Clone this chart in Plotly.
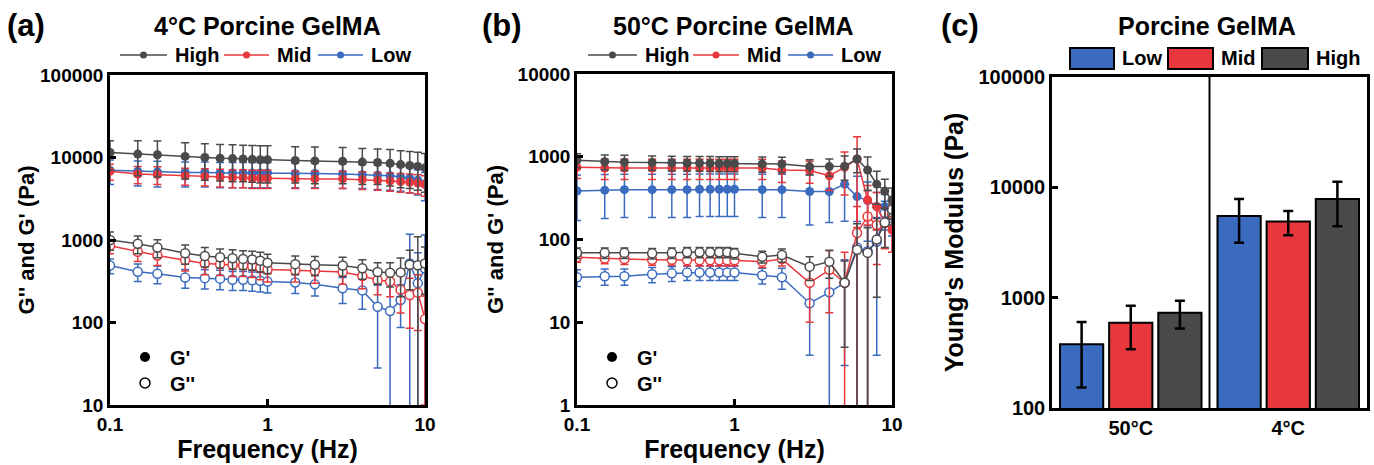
import plotly.graph_objects as go

# frequency sweep (Hz)
freq = [0.1, 0.15, 0.2, 0.3, 0.4, 0.5, 0.6, 0.7, 0.8, 0.9, 1, 1.5, 2, 3, 4, 5, 6, 7, 8, 9, 10]

# (a) 4°C Porcine GelMA
a_gp_high = [11500, 11000, 10800, 10300, 10000, 9800, 9700, 9600, 9500, 9400, 9400, 9200, 9100, 9000, 8800, 8700, 8500, 8200, 8000, 7800, 7500]
a_gp_high_err = [4500, 5000, 5000, 4800, 4700, 4600, 4600, 4500, 4500, 4500, 4500, 4300, 4300, 4200, 4100, 4000, 4000, 3900, 3800, 3800, 3700]
a_gp_mid = [6800, 6300, 6200, 6000, 5900, 5800, 5700, 5700, 5600, 5600, 5600, 5500, 5500, 5500, 5400, 5300, 5200, 5100, 5000, 4900, 4700]
a_gp_mid_err = [1500, 1500, 1500, 1400, 1400, 1400, 1400, 1400, 1400, 1400, 1400, 1300, 1300, 1300, 1300, 1300, 1300, 1300, 1300, 1300, 1300]
a_gp_low = [7000, 6800, 6700, 6600, 6600, 6500, 6500, 6500, 6500, 6500, 6500, 6400, 6400, 6300, 6200, 6100, 6000, 5800, 5600, 5300, 4800]
a_gp_low_err = [2300, 2300, 2300, 2200, 2200, 2200, 2200, 2200, 2200, 2200, 2200, 2100, 2100, 2100, 2000, 2000, 2000, 1900, 1900, 1800, 1800]

a_gpp_high = [1000, 900, 810, 690, 640, 617, 600, 590, 580, 560, 530, 510, 500, 490, 455, 410, 400, 405, 500, 495, 520]
a_gpp_high_err = [250, 220, 200, 180, 170, 160, 160, 150, 150, 150, 140, 130, 130, 130, 120, 120, 130, 200, 250, 600, 300]
a_gpp_mid = [850, 720, 650, 570, 520, 510, 500, 490, 480, 460, 440, 430, 420, 410, 366, 327, 315, 250, 215, 230, 110]
a_gpp_mid_err = [170, 170, 160, 150, 140, 140, 140, 130, 130, 130, 130, 120, 120, 120, 110, 110, 110, 120, 130, 150, 100]
a_gpp_low = [490, 413, 390, 350, 345, 340, 330, 330, 325, 320, 313, 305, 290, 260, 245, 155, 138, 187, 520, 300, 450]
a_gpp_low_err = [100, 100, 95, 90, 90, 90, 85, 85, 85, 85, 85, 80, 80, 90, 100, 127, 150, 100, 650, 400, 700]

# (b) 50°C Porcine GelMA
b_gp_high = [910, 870, 860, 850, 845, 840, 840, 835, 830, 830, 830, 820, 815, 760, 760, 770, 940, 690, 466, 385, 300]
b_gp_high_err = [180, 180, 180, 170, 170, 170, 170, 170, 170, 170, 170, 170, 170, 160, 180, 250, 300, 300, 200, 150, 120]
b_gp_mid = [745, 730, 730, 730, 730, 730, 730, 730, 730, 730, 730, 730, 690, 680, 590, 745, 940, 300, 250, 158, 130]
b_gp_mid_err = [200, 200, 200, 200, 200, 200, 200, 200, 200, 200, 200, 200, 200, 200, 200, 400, 800, 150, 120, 80, 60]
b_gp_low = [385, 395, 400, 400, 400, 400, 405, 405, 405, 405, 405, 400, 400, 380, 380, 466, 330, 295, 250, 250, 190]
b_gp_low_err = [215, 215, 215, 215, 215, 215, 215, 215, 215, 215, 215, 215, 215, 230, 220, 300, 250, 200, 120, 100, 80]

b_gpp_high = [69, 69, 69, 68, 69, 70, 70, 70, 70, 70, 68, 62, 65, 47, 54, 30, 75, 69, 100, 160, 230]
b_gpp_high_err = [10, 10, 10, 10, 10, 10, 10, 10, 10, 10, 10, 10, 12, 15, 20, 25, 80, 70, 80, 80, 80]
b_gpp_mid = [61, 59, 58, 57, 57, 56, 56, 56, 56, 56, 56, 54, 58, 30, 43, 30, 120, 190, 150, 158, 200]
b_gpp_mid_err = [8, 8, 8, 8, 8, 8, 8, 8, 8, 8, 8, 8, 10, 20, 30, 40, 130, 200, 100, 80, 60]
b_gpp_low = [35, 36, 36, 38, 39, 40, 40, 40, 40, 40, 40, 37, 35, 17, 23, 30, 80, 72, 94, 210, 230]
b_gpp_low_err = [8, 8, 8, 8, 8, 8, 8, 8, 8, 8, 8, 8, 10, 13, 30, 27, 85, 75, 90, 80, 70]

# (c) Young's modulus
temps = ["50°C", "4°C"]
ym_low = [378, 5500]
ym_low_err = [225, 2350]
ym_mid = [593, 4890]
ym_mid_err = [253, 1220]
ym_high = [731, 7840]
ym_high_err = [205, 3400]

a_yticks = [10, 100, 1000, 10000, 100000]
b_yticks = [1, 10, 100, 1000, 10000]
c_yticks = [100, 1000, 10000, 100000]
x_ticks = [0.1, 1, 10]

GRAY = "#4a4a4a"
RED = "#e8383d"
BLUE = "#3a6bbf"
FONT = "Arial, Liberation Sans, sans-serif"

W, H = 1374, 465


def px(x0, x1):
    return [x0 / W, x1 / W]


def py(top, bottom):
    return [1 - bottom / H, 1 - top / H]


def text(fig, s, x, y, size, anchor="center"):
    fig.add_annotation(text=s, x=x / W, y=1 - y / H, xref="paper", yref="paper",
                       xanchor=anchor, yanchor="middle", showarrow=False,
                       font=dict(family=FONT, size=size, color="black", weight="bold"))


def line_key(fig, name, color, x0, x1, y):
    # legend key: short line with a dot in the middle, then the label
    fig.add_shape(type="line", xref="paper", yref="paper",
                  x0=x0 / W, x1=x1 / W, y0=1 - y / H, y1=1 - y / H,
                  line=dict(color=color, width=1.5))
    cx, r = (x0 + x1) / 2, 3.5
    fig.add_shape(type="circle", xref="paper", yref="paper",
                  x0=(cx - r) / W, x1=(cx + r) / W, y0=1 - (y + r) / H, y1=1 - (y - r) / H,
                  fillcolor=color, line=dict(color=color, width=0))
    text(fig, name, x1 + 6, y, 20, "left")


fig = go.Figure()

series = [
    ("High", GRAY),
    ("Mid", RED),
    ("Low", BLUE),
]

panels = [
    ("x", "y", [
        (a_gp_high, a_gp_high_err, a_gpp_high, a_gpp_high_err),
        (a_gp_mid, a_gp_mid_err, a_gpp_mid, a_gpp_mid_err),
        (a_gp_low, a_gp_low_err, a_gpp_low, a_gpp_low_err),
    ]),
    ("x2", "y2", [
        (b_gp_high, b_gp_high_err, b_gpp_high, b_gpp_high_err),
        (b_gp_mid, b_gp_mid_err, b_gpp_mid, b_gpp_mid_err),
        (b_gp_low, b_gp_low_err, b_gpp_low, b_gpp_low_err),
    ]),
]

for xa, ya, data in panels:
    # draw low first so high sits on top
    for (name, color), (gp, gpe, gpp, gppe) in reversed(list(zip(series, data))):
        fig.add_trace(go.Scatter(
            x=freq, y=gpp, xaxis=xa, yaxis=ya, mode="lines+markers", name=name + " G''",
            line=dict(color=color, width=1.5),
            marker=dict(symbol="circle", size=9, color="white",
                        line=dict(color=color, width=1.5)),
            error_y=dict(type="data", array=gppe, color=color, thickness=1.5, width=4),
            showlegend=False,
        ))
        fig.add_trace(go.Scatter(
            x=freq, y=gp, xaxis=xa, yaxis=ya, mode="lines+markers", name=name + " G'",
            line=dict(color=color, width=1.5),
            marker=dict(symbol="circle", size=9, color=color),
            error_y=dict(type="data", array=gpe, color=color, thickness=1.5, width=4),
            showlegend=False,
        ))

# G' / G'' marker keys, one legend per row
for leg_f, leg_o, xa, ya in [("legend4", "legend5", "x", "y"),
                             ("legend6", "legend7", "x2", "y2")]:
    fig.add_trace(go.Scatter(x=[None], y=[None], xaxis=xa, yaxis=ya, mode="markers",
                             name="G'", marker=dict(size=10, color="black"), legend=leg_f))
    fig.add_trace(go.Scatter(x=[None], y=[None], xaxis=xa, yaxis=ya, mode="markers",
                             name="G''", marker=dict(size=10, color="white",
                                                     line=dict(color="black", width=1.5)),
                             legend=leg_o))

# (c) bars
for name, color, vals, errs in [("Low", BLUE, ym_low, ym_low_err),
                                ("Mid", RED, ym_mid, ym_mid_err),
                                ("High", GRAY, ym_high, ym_high_err)]:
    fig.add_trace(go.Bar(
        x=temps, y=vals, name=name, xaxis="x3", yaxis="y3",
        marker=dict(color=color, line=dict(color="black", width=2)),
        error_y=dict(type="data", array=errs, color="black", thickness=2.5, width=5),
        showlegend=False,
    ))

axis_common = dict(
    showline=True, linecolor="black", linewidth=2.5, mirror=True,
    ticks="inside", ticklen=6, tickwidth=2.5, tickcolor="black",
    showgrid=False, zeroline=False, automargin=False,
    tickfont=dict(family=FONT, size=19, color="black", weight="bold"),
)

fig.update_layout(
    width=W, height=H,
    margin=dict(l=0, r=0, t=0, b=0),
    paper_bgcolor="white", plot_bgcolor="white",
    font=dict(family=FONT, color="black"),
    barmode="group", bargap=0.064, bargroupgap=0.12,
    xaxis=dict(axis_common, type="log", domain=px(110, 425), range=[-1, 1],
               tickvals=x_ticks, ticktext=["0.1", "1", "10"], anchor="y",
               title=dict(text="Frequency (Hz)", standoff=4,
                          font=dict(family=FONT, size=25, weight="bold"))),
    yaxis=dict(axis_common, type="log", domain=py(75, 405), range=[1, 5],
               tickvals=a_yticks, ticktext=[str(v) for v in a_yticks], anchor="x",
               title=dict(text="G'' and G' (Pa)", standoff=0,
                          font=dict(family=FONT, size=22, weight="bold"))),
    xaxis2=dict(axis_common, type="log", domain=px(577, 892), range=[-1, 1],
                tickvals=x_ticks, ticktext=["0.1", "1", "10"], anchor="y2",
                title=dict(text="Frequency (Hz)", standoff=4,
                           font=dict(family=FONT, size=25, weight="bold"))),
    yaxis2=dict(axis_common, type="log", domain=py(74, 405), range=[0, 4],
                tickvals=b_yticks, ticktext=[str(v) for v in b_yticks], anchor="x2",
                title=dict(text="G'' and G' (Pa)", standoff=8,
                           font=dict(family=FONT, size=22, weight="bold"))),
    xaxis3=dict(axis_common, domain=px(1052, 1367), anchor="y3", ticks="",
                tickfont=dict(family=FONT, size=20, color="black", weight="bold")),
    yaxis3=dict(axis_common, type="log", domain=py(77, 408), range=[2, 5],
                tickvals=c_yticks, ticktext=[str(v) for v in c_yticks], anchor="x3",
                tickfont=dict(family=FONT, size=20, color="black", weight="bold"),
                title=dict(text="Young's Modulus (Pa)", standoff=8,
                           font=dict(family=FONT, size=25, weight="bold"))),
)

key_legend = dict(orientation="v", xanchor="left", yanchor="middle", itemwidth=40,
                  font=dict(family=FONT, size=20, color="black", weight="bold"),
                  bgcolor="rgba(0,0,0,0)", itemclick=False)
fig.update_layout(
    legend4=dict(key_legend, x=120 / W, y=1 - 357 / H),
    legend5=dict(key_legend, x=120 / W, y=1 - 383 / H),
    legend6=dict(key_legend, x=587 / W, y=1 - 357 / H),
    legend7=dict(key_legend, x=587 / W, y=1 - 383 / H),
)

# titles and panel letters
for s, x, y, size in [("(a)", 26, 26, 31), ("(b)", 502, 26, 31), ("(c)", 960, 26, 31),
                      ("4°C Porcine GelMA", 267, 26, 25),
                      ("50°C Porcine GelMA", 733, 26, 25),
                      ("Porcine GelMA", 1207, 26, 25)]:
    text(fig, s, x, y, size)

# High / Mid / Low keys above (a) and (b)
for name, color, a0, a1, b0, b1 in [("High", GRAY, 120, 167, 588, 637),
                                    ("Mid", RED, 224, 269, 693, 739),
                                    ("Low", BLUE, 318, 363, 788, 833)]:
    line_key(fig, name, color, a0, a1, 55)
    line_key(fig, name, color, b0, b1, 55)

# (c) legend drawn as wide swatches
for name, color, x0, x1, tx in [("Low", BLUE, 1070, 1114, 1120),
                                ("Mid", RED, 1168, 1213, 1219),
                                ("High", GRAY, 1262, 1308, 1314)]:
    fig.add_shape(type="rect", xref="paper", yref="paper",
                  x0=x0 / W, x1=x1 / W, y0=1 - 69 / H, y1=1 - 48 / H,
                  fillcolor=color, line=dict(color="black", width=2))
    text(fig, name, tx, 58, 20, "left")

# divider between the two temperature groups
fig.add_shape(type="line", xref="x3", yref="y3 domain", x0=0.5, x1=0.5, y0=0, y1=1,
              line=dict(color="black", width=2))

# drop the browser's default body margin so the figure sits at the page corner
fig.write_html("out.html", config={"displayModeBar": False},
               post_script="document.body.style.margin='0px';")
